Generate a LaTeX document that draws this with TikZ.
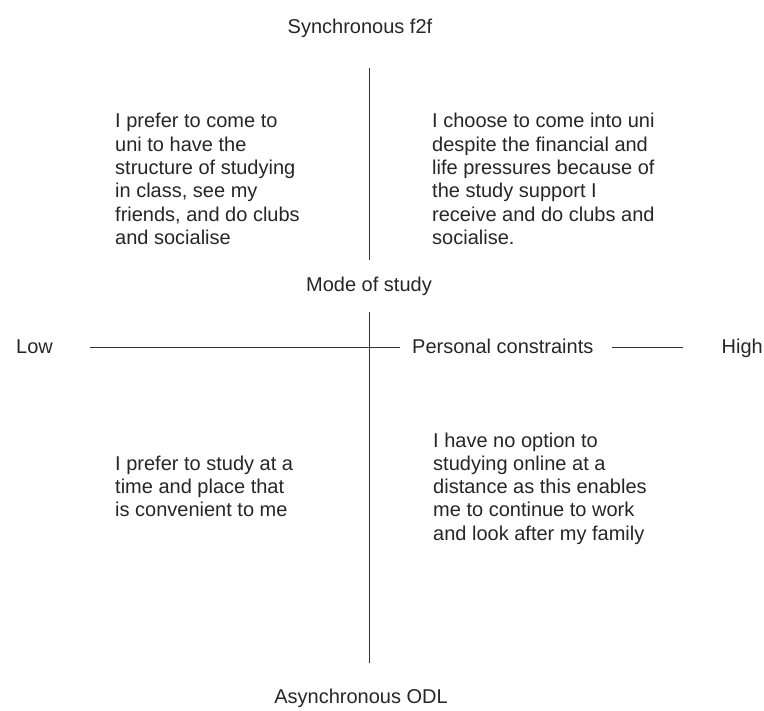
\documentclass[tikz,border=0pt]{standalone}
\usepackage{fontspec}
\setmainfont{Liberation Sans}
\usepackage{tikz}
\usetikzlibrary{positioning}
\tikzstyle{every picture}+=[x=1pt,y=-1pt]
\tikzstyle{quote}=[align=left,anchor=base west,inner sep=0pt,text=black!85,
  font=\fontsize{20}{23.3}\selectfont]
\tikzstyle{lbl}=[inner sep=0pt,text=black!85,font=\fontsize{20}{23.3}\selectfont]
\tikzstyle{axis}=[draw=black!80,line width=0.9pt]

\begin{document}
\begin{tikzpicture}
\useasboundingbox (0,0) rectangle (764,711);
% axis labels
\node[lbl,anchor=base] (sync) at (360,34) {Synchronous f2f};
\node[lbl,anchor=base] (mode) at (369,292) {Mode of study};
\node[lbl,anchor=base] (async) at (361,703) {Asynchronous ODL};
\node[lbl,anchor=base west] (low) at (16,354) {Low};
\node[lbl,anchor=base west] (pers) at (412,354) {Personal constraints};
\node[lbl,anchor=base east] (high) at (763,354) {High};
\coordinate (vtop) at (369.5,68);
\coordinate (vmid1) at (369.5,260);
\coordinate (vmid2) at (369.5,312);
\coordinate (vbot) at (369.5,663);
\coordinate (hleft) at (90,347);
\coordinate (hmid) at (400,347);
\coordinate (hs1) at (612,347);
\coordinate (hs2) at (683,347);
\draw[axis] (vtop) -- (vmid1);
\draw[axis] (vmid2) -- (vbot);
\draw[axis] (hleft) -- (hmid);
\draw[axis] (hs1) -- (hs2);
% quadrants (base = last line)
\node[quote] (prefer) at (115,244.5) {I prefer to come to\\uni to have the\\structure of studying\\in class, see my\\friends, and do clubs\\and socialise};
\node[quote] (choose) at (432,244.5) {I choose to come into uni\\despite the financial and\\life pressures because of\\the study support I\\receive and do clubs and\\socialise.};
\node[quote] (time) at (115,516.6) {I prefer to study at a\\time and place that\\is convenient to me};
\node[quote] (nooption) at (433,540.2) {I have no option to\\studying online at a\\distance as this enables\\me to continue to work\\and look after my family};
\end{tikzpicture}
\end{document}
